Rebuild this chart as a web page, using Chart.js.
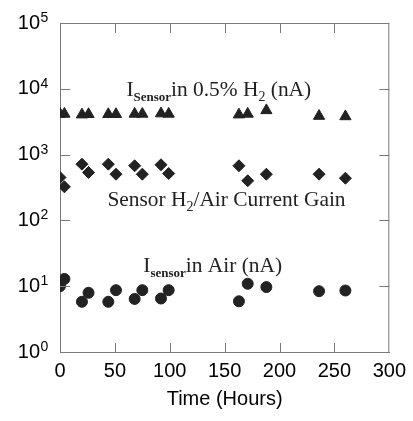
<!DOCTYPE html>
<html>
<head>
<meta charset="utf-8">
<script src="https://cdn.jsdelivr.net/npm/chart.js@4/dist/chart.umd.min.js"></script>
<style>
  html, body { margin: 0; padding: 0; background: #fff; }
  #wrap { width: 413px; height: 421px; }
</style>
</head>
<body>
<div id="wrap"><canvas id="c" width="413" height="421"></canvas></div>
<script>
// Sampling times (hours)
const hours = [0, 4, 20, 26, 44, 51, 68, 75, 92, 99, 163, 171, 188, 236, 260];
// Sensor current in 0.5% H2 (nA)
const currentH2 = [4150, 4150, 4050, 4100, 4100, 4100, 4150, 4150, 4200, 4150, 4050, 4150, 4700, 3850, 3800];
// Sensor H2/Air current gain
const gain = [449, 324, 715, 535, 715, 504, 676, 504, 700, 516, 676, 400, 504, 504, 438];
// Sensor current in air (nA)
const currentAir = [10.0, 12.9, 5.8, 7.95, 5.8, 8.7, 6.4, 8.7, 6.5, 8.7, 5.9, 10.9, 9.7, 8.4, 8.6];

// Axis ticks
const xTicks = [0, 50, 100, 150, 200, 250, 300];
const yExponents = [0, 1, 2, 3, 4, 5];

// In-plot series labels: [hours, value at baseline]
const labelH2Pos = [60.5, 7640];
const labelGainPos = [43.2, 163];
const labelAirPos = [75.9, 16.7];

const AXIS_COLOR = '#7a7a7a';
const MARK_COLOR = '#222';

function pts(ys) { return hours.map((h, i) => ({ x: h, y: ys[i] })); }

// Draws a run of text pieces; pieces with dy are smaller and lowered
function drawRich(ctx, x, y, pieces) {
  let cx = x;
  for (const p of pieces) {
    ctx.font = p.font;
    ctx.fillText(p.t, cx, y + (p.dy || 0));
    cx += ctx.measureText(p.t).width;
  }
}

const frame = {
  id: 'frame',
  afterDraw(chart) {
    const ctx = chart.ctx;
    const a = chart.chartArea;
    const xs = chart.scales.x, ys = chart.scales.y;
    ctx.save();
    // top and right frame lines
    ctx.strokeStyle = AXIS_COLOR;
    ctx.lineWidth = 1;
    ctx.beginPath();
    ctx.moveTo(a.left, a.top + 0.5); ctx.lineTo(a.right, a.top + 0.5);
    ctx.moveTo(a.right - 0.5, a.top); ctx.lineTo(a.right - 0.5, a.bottom);
    // inward tick marks
    for (const v of xTicks.slice(1, -1)) {
      const px = Math.round(xs.getPixelForValue(v)) + 0.5;
      ctx.moveTo(px, a.bottom); ctx.lineTo(px, a.bottom - 9);
      ctx.moveTo(px, a.top); ctx.lineTo(px, a.top + 10);
    }
    for (const e of yExponents.slice(1, -1)) {
      const py = Math.round(ys.getPixelForValue(Math.pow(10, e))) + 0.5;
      ctx.moveTo(a.left, py); ctx.lineTo(a.left + 10, py);
      ctx.moveTo(a.right, py); ctx.lineTo(a.right - 10, py);
    }
    ctx.stroke();

    // y tick labels: 10 with superscript exponent
    ctx.fillStyle = '#000';
    for (const e of yExponents) {
      const py = ys.getPixelForValue(Math.pow(10, e));
      ctx.font = '20px "Liberation Sans", Arial, sans-serif';
      ctx.textAlign = 'right';
      ctx.textBaseline = 'middle';
      ctx.fillText('10', 40, py);
      ctx.font = '14px "Liberation Sans", Arial, sans-serif';
      ctx.textAlign = 'left';
      ctx.textBaseline = 'alphabetic';
      ctx.fillText(String(e), 40.5, py - 1);
    }

    // series labels
    ctx.fillStyle = '#222';
    ctx.textAlign = 'left';
    ctx.textBaseline = 'alphabetic';
    const big = '21.4px "Liberation Serif", "Times New Roman", serif';
    const subB = 'bold 13px "Liberation Serif", "Times New Roman", serif';
    const sub = '14px "Liberation Serif", "Times New Roman", serif';
    drawRich(ctx, xs.getPixelForValue(labelH2Pos[0]), ys.getPixelForValue(labelH2Pos[1]), [
      { t: 'I', font: big },
      { t: 'Sensor', font: subB, dy: 5 },
      { t: 'in 0.5% H', font: big },
      { t: '2', font: sub, dy: 5 },
      { t: ' (nA)', font: big }
    ]);
    drawRich(ctx, xs.getPixelForValue(labelGainPos[0]), ys.getPixelForValue(labelGainPos[1]), [
      { t: 'Sensor H', font: big },
      { t: '2', font: sub, dy: 5 },
      { t: '/Air Current Gain', font: big }
    ]);
    drawRich(ctx, xs.getPixelForValue(labelAirPos[0]), ys.getPixelForValue(labelAirPos[1]), [
      { t: 'I', font: big },
      { t: 'sensor', font: subB, dy: 5 },
      { t: 'in Air (nA)', font: big }
    ]);
    ctx.restore();
  }
};

new Chart(document.getElementById('c'), {
  type: 'scatter',
  data: {
    datasets: [
      { label: 'I Sensor in 0.5% H2 (nA)', data: pts(currentH2), pointStyle: 'triangle', pointRadius: 6.5,
        backgroundColor: MARK_COLOR, borderColor: MARK_COLOR, borderWidth: 1 },
      { label: 'Sensor H2/Air Current Gain', data: pts(gain), pointStyle: 'rectRot', pointRadius: 6,
        backgroundColor: MARK_COLOR, borderColor: MARK_COLOR, borderWidth: 1 },
      { label: 'I sensor in Air (nA)', data: pts(currentAir), pointStyle: 'circle', pointRadius: 5.5,
        backgroundColor: MARK_COLOR, borderColor: MARK_COLOR, borderWidth: 1 }
    ]
  },
  options: {
    responsive: false,
    animation: false,
    devicePixelRatio: 1,
    layout: { padding: { left: 0, right: 23, top: 23, bottom: 0 } },
    plugins: { legend: { display: false }, tooltip: { enabled: false } },
    scales: {
      x: {
        type: 'linear', min: 0, max: 300,
        afterBuildTicks: s => { s.ticks = xTicks.map(v => ({ value: v })); },
        afterFit: s => { s.height = 69; },
        grid: { display: false, drawTicks: false },
        border: { display: true, color: AXIS_COLOR, width: 1 },
        ticks: { color: '#000', padding: 7, font: { family: '"Liberation Sans", Arial, sans-serif', size: 20 } },
        title: { display: true, text: 'Time (Hours)', color: '#000', padding: { top: 0, bottom: 10 },
          font: { family: '"Liberation Sans", Arial, sans-serif', size: 20 } }
      },
      y: {
        type: 'logarithmic', min: 1, max: 100000,
        afterBuildTicks: s => { s.ticks = yExponents.map(e => ({ value: Math.pow(10, e) })); },
        afterFit: s => { s.width = 60; },
        grid: { display: false, drawTicks: false },
        border: { display: true, color: AXIS_COLOR, width: 1 },
        ticks: { display: false }
      }
    }
  },
  plugins: [frame]
});
</script>
</body>
</html>
